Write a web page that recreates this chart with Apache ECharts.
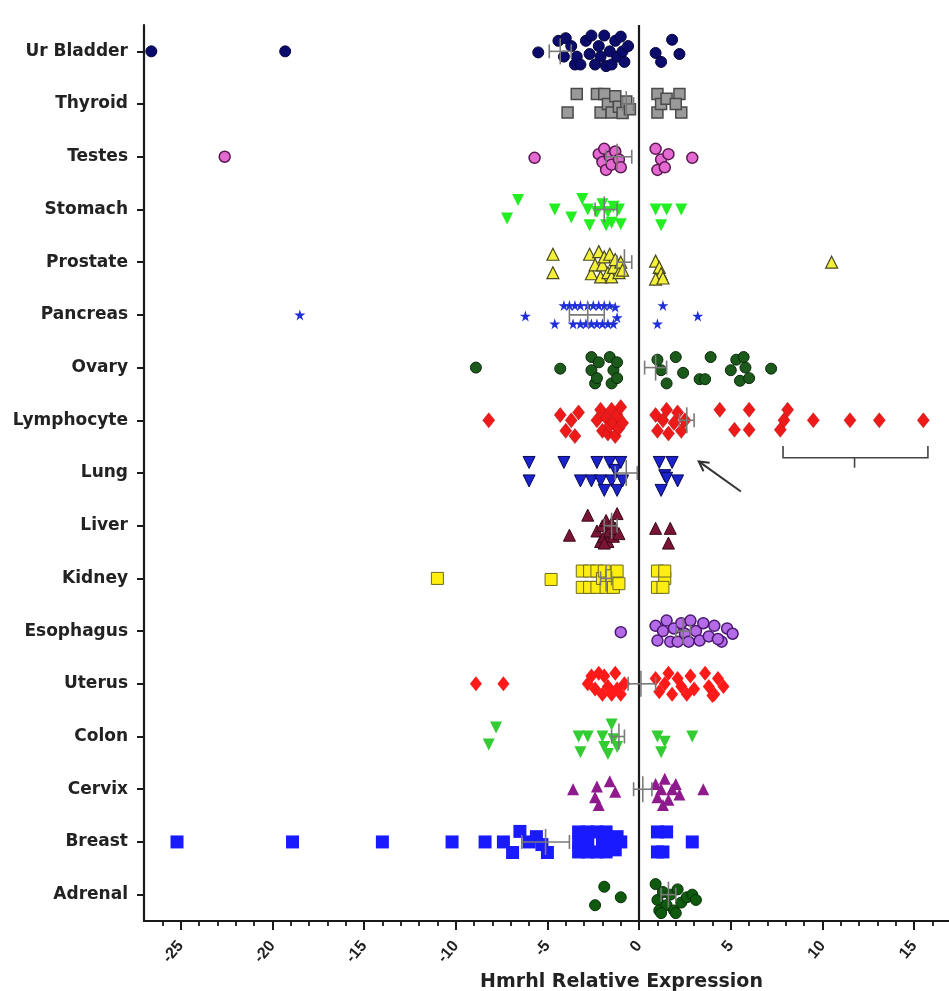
<!DOCTYPE html>
<html>
<head>
<meta charset="utf-8">
<script src="https://cdn.jsdelivr.net/npm/echarts@6/dist/echarts.min.js"></script>
<style>
html,body{margin:0;padding:0;background:#fff;}
#chart{width:949px;height:991px;}
</style>
</head>
<body>
<div id="chart"></div>
<script>
// ---------- DATA ----------
const categories = ['Ur Bladder','Thyroid','Testes','Stomach','Prostate','Pancreas','Ovary','Lymphocyte','Lung','Liver','Kidney','Esophagus','Uterus','Colon','Cervix','Breast','Adrenal'];

const xMajorTicks = [-25, -20, -15, -10, -5, 0, 5, 10, 15];
const xMinorTicks = [-26,-24,-23,-22,-21,-19,-18,-17,-16,-14,-13,-12,-11,-9,-8,-7,-6,-4,-3,-2,-1,1,2,3,4,6,7,8,9,11,12,13,14,16];

// each point: [relative expression, vertical jitter within row]
const urBladder = [[-26.6,0],[-19.3,0],[-5.5,0.02],[-4.4,-0.2],[-4.1,0.1],[-4.0,-0.25],[-3.7,-0.1],[-3.5,0.25],[-3.4,0.1],[-3.2,0.25],[-2.9,-0.2],[-2.7,0.05],[-2.6,-0.3],[-2.4,0.25],[-2.2,-0.1],[-2.1,0.1],[-1.9,-0.3],[-1.8,0.28],[-1.6,0.0],[-1.5,0.25],[-1.3,-0.2],[-1.2,0.1],[-1.0,-0.28],[-0.9,0.0],[-0.8,0.2],[-0.6,-0.1],[0.9,0.03],[1.2,0.2],[1.8,-0.22],[2.2,0.05]];
const thyroid = [[-3.9,0.16],[-3.4,-0.19],[-2.3,-0.19],[-2.1,0.16],[-1.9,-0.19],[-1.7,0.0],[-1.5,0.16],[-1.3,-0.15],[-1.1,0.05],[-0.9,0.17],[-0.7,-0.05],[-0.5,0.1],[1.0,-0.19],[1.0,0.16],[1.2,0.0],[1.5,-0.1],[2.2,-0.19],[2.3,0.16],[2.0,0.0]];
const testes = [[-22.6,0],[-5.7,0.02],[-2.2,-0.05],[-2.0,0.1],[-1.9,-0.15],[-1.8,0.25],[-1.6,0.0],[-1.5,0.15],[-1.3,-0.1],[-1.1,0.05],[-1.0,0.2],[0.9,-0.15],[1.0,0.25],[1.2,0.05],[1.4,0.2],[1.6,-0.05],[2.9,0.02]];
const stomach = [[-7.2,0.17],[-6.6,-0.18],[-4.6,0.0],[-3.7,0.15],[-3.1,-0.2],[-2.8,0.0],[-2.7,0.3],[-2.3,0.05],[-2.0,-0.1],[-1.8,0.3],[-1.7,0.05],[-1.5,0.25],[-1.4,-0.05],[-1.1,0.0],[-1.0,0.28],[0.9,0.0],[1.2,0.3],[1.5,0.0],[2.3,0.0]];
const prostate = [[-4.7,-0.15],[-4.7,0.2],[-2.7,-0.15],[-2.6,0.22],[-2.4,0.05],[-2.2,-0.2],[-2.1,0.28],[-2.0,0.05],[-1.9,-0.1],[-1.7,0.2],[-1.6,-0.15],[-1.5,0.28],[-1.4,0.1],[-1.3,-0.05],[-1.1,0.2],[-1.0,0.0],[-0.9,0.15],[0.9,-0.02],[1.1,0.1],[1.2,0.22],[0.9,0.32],[1.3,0.3],[10.5,0]];
const pancreas = [[-18.5,0],[-6.2,0.02],[-4.6,0.17],[-4.1,-0.18],[-3.8,-0.18],[-3.5,-0.18],[-3.2,-0.18],[-2.8,-0.18],[-2.5,-0.18],[-2.2,-0.18],[-1.9,-0.18],[-1.6,-0.18],[-1.3,-0.15],[-3.6,0.17],[-3.2,0.17],[-2.9,0.17],[-2.6,0.17],[-2.3,0.17],[-2.0,0.17],[-1.7,0.17],[-1.4,0.17],[-1.2,0.05],[1.3,-0.18],[1.0,0.17],[3.2,0.02]];
const ovary = [[-8.9,0],[-4.3,0.02],[-2.6,-0.2],[-2.6,0.05],[-2.4,0.3],[-2.2,-0.1],[-2.3,0.2],[-1.6,-0.2],[-1.4,0.05],[-1.5,0.3],[-1.2,-0.1],[-1.2,0.2],[1.0,-0.15],[1.2,0.05],[1.5,0.3],[2.0,-0.2],[2.4,0.1],[3.3,0.22],[3.6,0.22],[3.9,-0.2],[5.0,0.05],[5.3,-0.15],[5.5,0.25],[5.8,0.0],[6.0,0.2],[5.7,-0.2],[7.2,0.02]];
const lymphocyte = [[-8.2,0],[-4.3,-0.1],[-4.0,0.2],[-3.7,0.0],[-3.5,0.3],[-3.3,-0.15],[-2.3,0.0],[-2.1,-0.2],[-2.0,0.2],[-1.8,-0.05],[-1.7,0.25],[-1.6,0.1],[-1.5,-0.2],[-1.4,0.05],[-1.3,0.3],[-1.2,-0.1],[-1.1,0.15],[-1.0,-0.25],[-0.9,0.05],[0.9,-0.1],[1.0,0.2],[1.3,0.0],[1.5,-0.2],[1.6,0.25],[1.9,0.05],[2.1,-0.15],[2.3,0.2],[2.5,0.0],[4.4,-0.2],[5.2,0.18],[6.0,-0.2],[6.0,0.18],[7.7,0.18],[7.9,0.0],[8.1,-0.2],[9.5,0],[11.5,0],[13.1,0],[15.5,0]];
const lung = [[-6.0,-0.2],[-6.0,0.15],[-4.1,-0.2],[-3.2,0.15],[-2.6,0.15],[-2.3,-0.2],[-2.1,0.15],[-1.9,0.33],[-1.6,-0.2],[-1.5,0.15],[-1.3,-0.05],[-1.2,0.33],[-1.0,-0.2],[-0.9,0.15],[1.1,-0.2],[1.4,0.05],[1.2,0.33],[1.8,-0.2],[2.1,0.15],[1.5,0.1]];
const liver = [[-3.8,0.18],[-2.8,-0.2],[-1.2,-0.23],[-2.3,0.1],[-2.1,0.3],[-2.0,0.0],[-1.9,0.2],[-1.8,-0.1],[-1.7,0.3],[-1.6,0.1],[-1.5,-0.05],[-1.4,0.2],[-1.3,0.05],[-1.1,0.15],[-1.9,0.33],[0.9,0.05],[1.7,0.05],[1.6,0.33]];
const kidney = [[-11.0,0],[-4.8,0.02],[-3.1,-0.14],[-3.1,0.17],[-2.7,-0.14],[-2.7,0.17],[-2.3,-0.14],[-2.3,0.17],[-2.0,0.0],[-1.9,-0.14],[-1.8,0.17],[-1.5,-0.05],[-1.4,0.17],[-1.2,-0.14],[-1.1,0.1],[1.0,-0.14],[1.0,0.17],[1.4,0.0],[1.4,-0.14],[1.3,0.17]];
const esophagus = [[-1.0,0.02],[0.9,-0.1],[1.0,0.18],[1.3,0.0],[1.5,-0.2],[1.7,0.2],[1.9,-0.05],[2.1,0.2],[2.3,-0.15],[2.5,0.05],[2.7,0.2],[2.8,-0.2],[3.1,0.0],[3.3,0.18],[3.5,-0.15],[3.8,0.1],[4.1,-0.1],[4.5,0.2],[4.8,-0.05],[5.1,0.05],[4.3,0.15]];
const uterus = [[-8.9,0],[-7.4,0],[-2.8,0.0],[-2.6,-0.15],[-2.4,0.1],[-2.2,-0.2],[-2.0,0.2],[-1.9,-0.15],[-1.7,0.05],[-1.5,0.2],[-1.3,-0.2],[-1.2,0.1],[-1.0,0.2],[-0.8,0.0],[0.9,-0.1],[1.1,0.15],[1.4,0.0],[1.6,-0.2],[1.8,0.2],[2.1,-0.1],[2.3,0.05],[2.6,0.2],[2.8,-0.15],[3.0,0.1],[3.6,-0.2],[3.8,0.05],[4.0,0.22],[4.3,-0.1],[4.6,0.05],[4.1,0.2]];
const colon = [[-8.2,0.15],[-7.8,-0.17],[-3.3,0.0],[-3.2,0.3],[-2.8,0.0],[-2.0,0.0],[-1.9,0.2],[-1.7,0.33],[-1.5,-0.23],[-1.4,0.05],[-1.2,0.2],[1.0,0.0],[1.2,0.3],[1.4,0.1],[2.9,0.0]];
const cervix = [[-3.6,0.0],[-2.4,0.15],[-2.3,-0.05],[-2.2,0.3],[-1.6,-0.15],[-1.3,0.05],[0.9,-0.1],[1.0,0.15],[1.2,0.0],[1.4,-0.2],[1.6,0.2],[1.8,0.0],[2.0,-0.1],[2.2,0.1],[1.3,0.3],[3.5,0.0]];
const breast = [[-25.2,0],[-18.9,0],[-14.0,0],[-10.2,0],[-8.4,0],[-7.4,0],[-6.9,0.2],[-6.5,-0.2],[-6.0,0.0],[-5.6,-0.1],[-5.3,0.05],[-5.0,0.2],[-3.3,-0.19],[-3.3,0.0],[-3.3,0.19],[-2.8,-0.19],[-2.8,0.0],[-2.8,0.19],[-2.3,-0.19],[-2.3,0.19],[-2.0,0.0],[-1.8,-0.19],[-1.8,0.19],[-1.5,0.0],[-1.2,-0.1],[-1.0,0.0],[-1.3,0.15],[1.0,-0.19],[1.5,-0.19],[1.0,0.19],[1.3,0.19],[2.9,0.0]];
const adrenal = [[-2.4,0.2],[-1.9,-0.15],[-1.0,0.05],[0.9,-0.2],[1.0,0.1],[1.1,0.3],[1.3,-0.05],[1.5,0.2],[1.7,0.0],[1.9,0.3],[2.1,-0.1],[2.3,0.15],[2.6,0.05],[2.9,0.0],[3.1,0.1],[1.2,0.35],[2.0,0.35]];

// mean and SEM range per tissue (same order as categories)
const meanValues = [-4.3, -0.7, -1.2, -1.9, -0.8, -2.8, 0.9, 2.6, -0.7, -1.5, -1.8, 2.4, 0.1, -1.1, 0.2, -5.1, 1.6];
const semLow     = [-4.9, -0.9, -1.8, -2.4, -1.2, -3.8, 0.3, 2.2, -1.3, -1.9, -2.1, 2.0, -0.6, -1.5, -0.3, -6.4, 1.2];
const semHigh    = [-3.7, -0.3, -0.4, -1.2, -0.4, -1.9, 1.5, 3.0, -0.1, -1.2, -1.5, 2.8, 0.9, -0.8, 0.7, -3.8, 2.0];

const tissuePoints = [urBladder, thyroid, testes, stomach, prostate, pancreas, ovary, lymphocyte, lung, liver, kidney, esophagus, uterus, colon, cervix, breast, adrenal];

// ---------- STYLES ----------
const STAR = 'path://M50,0 L61,35 L98,35 L68,57 L79,91 L50,70 L21,91 L32,57 L2,35 L39,35 Z';
const styles = [
  {symbol:'circle', size:11, color:'#0b0b6b', border:'#05053a', bw:1},
  {symbol:'rect', size:11, color:'#9a9a9a', border:'#4a4a4a', bw:1.5},
  {symbol:'circle', size:11, color:'#e46ad2', border:'#5a1a50', bw:1.5},
  {symbol:'triangle', size:12, color:'#22ee22', border:'#22ee22', bw:0, rot:180},
  {symbol:'triangle', size:12, color:'#f4f03a', border:'#4a4a20', bw:1.2},
  {symbol:STAR, size:11, color:'#2030d8', border:'#2030d8', bw:0},
  {symbol:'circle', size:11, color:'#1b5a1b', border:'#0a2a0a', bw:1},
  {symbol:'diamond', size:[12,15], color:'#ee1a1a', border:'#b01010', bw:0.5},
  {symbol:'triangle', size:12, color:'#1a22cc', border:'#0a0a55', bw:1, rot:180},
  {symbol:'triangle', size:12, color:'#7b1535', border:'#3a0a18', bw:1},
  {symbol:'rect', size:12, color:'#ffee10', border:'#6a6a20', bw:1},
  {symbol:'circle', size:11, color:'#b56ae8', border:'#4a1a70', bw:1.5},
  {symbol:'diamond', size:[12,15], color:'#ff1a1a', border:'#ff1a1a', bw:0},
  {symbol:'triangle', size:12, color:'#33cc33', border:'#33cc33', bw:0, rot:180},
  {symbol:'triangle', size:12, color:'#8e1a8e', border:'#8e1a8e', bw:0},
  {symbol:'rect', size:13, color:'#1a1aff', border:'#1a1aff', bw:0},
  {symbol:'circle', size:11, color:'#0f5a0f', border:'#063006', bw:1}
];

// annotation (arrow + bracket) in data coordinates
const annot = {
  arrowTail:[5.55, 8.35], arrowTip:[3.25, 7.78],
  bracketLeft:7.85, bracketRight:15.75, bracketMid:11.75,
  bracketY:7.71, bracketEndY:7.49, bracketMidY:7.9
};

const LABEL_FONT = 'DejaVu Sans, Verdana, sans-serif';
const TICK_FONT = 'Liberation Sans, Arial, sans-serif';
const catIdx = categories.map((_, i) => i);

const series = [];
tissuePoints.forEach((pts, i) => {
  const st = styles[i];
  const s = {
    name: categories[i],
    type: 'scatter',
    symbol: st.symbol,
    symbolSize: st.size,
    symbolRotate: st.rot || 0,
    itemStyle: {color: st.color, borderColor: st.border, borderWidth: st.bw, opacity: 1},
    data: pts.map(p => [p[0], i + p[1]]),
    z: 3,
    silent: true
  };
  if (i === 0) {
    s.markLine = {
      silent: true, symbol: ['none','none'],
      label: {show: false},
      lineStyle: {color: '#1a1a1a', width: 2.2, type: 'solid'},
      data: [{xAxis: 0}],
      z: 2
    };
  }
  series.push(s);
});

// error bars (mean +/- SEM)
series.push({
  type: 'custom',
  name: 'sem',
  z: 5,
  silent: true,
  encode: {x: [0, 2, 3], y: 1},
  data: categories.map((c, i) => [meanValues[i], i, semLow[i], semHigh[i]]),
  renderItem: function (params, api) {
    const y = api.value(1);
    const m = api.coord([api.value(0), y]);
    const lo = api.coord([api.value(2), y]);
    const hi = api.coord([api.value(3), y]);
    const st = {stroke: '#7a7a7a', lineWidth: 1.6};
    return {
      type: 'group',
      children: [
        {type: 'line', shape: {x1: lo[0], y1: lo[1], x2: hi[0], y2: hi[1]}, style: st},
        {type: 'line', shape: {x1: lo[0], y1: lo[1] - 7, x2: lo[0], y2: lo[1] + 7}, style: st},
        {type: 'line', shape: {x1: hi[0], y1: hi[1] - 7, x2: hi[0], y2: hi[1] + 7}, style: st},
        {type: 'line', shape: {x1: m[0], y1: m[1] - 13, x2: m[0], y2: m[1] + 13}, style: st}
      ]
    };
  }
});

// arrow and bracket annotation
series.push({
  type: 'custom',
  name: 'annotation',
  z: 6,
  silent: true,
  clip: false,
  data: [[0, 0]],
  renderItem: function (params, api) {
    const t = api.coord(annot.arrowTail);
    const p = api.coord(annot.arrowTip);
    const ang = Math.atan2(t[1] - p[1], t[0] - p[0]);
    const L = 11, a = 0.5;
    const h1 = [p[0] + L * Math.cos(ang + a), p[1] + L * Math.sin(ang + a)];
    const h2 = [p[0] + L * Math.cos(ang - a), p[1] + L * Math.sin(ang - a)];
    const bl = api.coord([annot.bracketLeft, annot.bracketY]);
    const br = api.coord([annot.bracketRight, annot.bracketY]);
    const ble = api.coord([annot.bracketLeft, annot.bracketEndY]);
    const bre = api.coord([annot.bracketRight, annot.bracketEndY]);
    const bm = api.coord([annot.bracketMid, annot.bracketY]);
    const bmd = api.coord([annot.bracketMid, annot.bracketMidY]);
    const arrowStyle = {stroke: '#333', lineWidth: 2, fill: null};
    const brStyle = {stroke: '#444', lineWidth: 1.6, fill: null};
    return {
      type: 'group',
      children: [
        {type: 'line', shape: {x1: t[0], y1: t[1], x2: p[0], y2: p[1]}, style: arrowStyle},
        {type: 'polyline', shape: {points: [h1, p, h2]}, style: arrowStyle},
        {type: 'polyline', shape: {points: [ble, bl, br, bre]}, style: brStyle},
        {type: 'line', shape: {x1: bm[0], y1: bm[1], x2: bmd[0], y2: bmd[1]}, style: brStyle}
      ]
    };
  }
});

const chart = echarts.init(document.getElementById('chart'), null, {renderer: 'canvas'});
chart.setOption({
  animation: false,
  backgroundColor: '#ffffff',
  grid: {left: 144, right: 0, top: 25, bottom: 70, containLabel: false, outerBoundsMode: 'none'},
  xAxis: [{
    type: 'value', min: -27, max: 16.9, position: 'bottom',
    axisLine: {show: true, onZero: false, lineStyle: {color: '#1a1a1a', width: 2.2}},
    axisTick: {show: true, customValues: xMajorTicks, length: 9, lineStyle: {color: '#1a1a1a', width: 2}},
    axisLabel: {customValues: xMajorTicks, rotate: 50, margin: 22, fontFamily: TICK_FONT, fontWeight: 'bold', fontSize: 16, color: '#222'},
    splitLine: {show: false},
    name: 'Hmrhl Relative Expression',
    nameLocation: 'middle', nameGap: 48,
    nameTextStyle: {fontFamily: LABEL_FONT, fontWeight: 'bold', fontSize: 19, color: '#222', padding: [0, 0, 0, 150]}
  }, {
    type: 'value', min: -27, max: 16.9, position: 'bottom',
    axisLine: {show: false, onZero: false},
    axisTick: {show: true, customValues: xMinorTicks, length: 5, lineStyle: {color: '#1a1a1a', width: 1.8}},
    axisLabel: {show: false},
    splitLine: {show: false}
  }],
  yAxis: {
    type: 'value', inverse: true, min: -0.5, max: 16.5,
    axisLine: {show: true, onZero: false, lineStyle: {color: '#1a1a1a', width: 2.2}},
    axisTick: {show: true, customValues: catIdx, length: 7, lineStyle: {color: '#1a1a1a', width: 2}},
    axisLabel: {customValues: catIdx, formatter: v => categories[Math.round(v)], margin: 16, fontFamily: LABEL_FONT, fontWeight: 'bold', fontSize: 17, color: '#222'},
    splitLine: {show: false}
  },
  series: series
});
</script>
</body>
</html>
